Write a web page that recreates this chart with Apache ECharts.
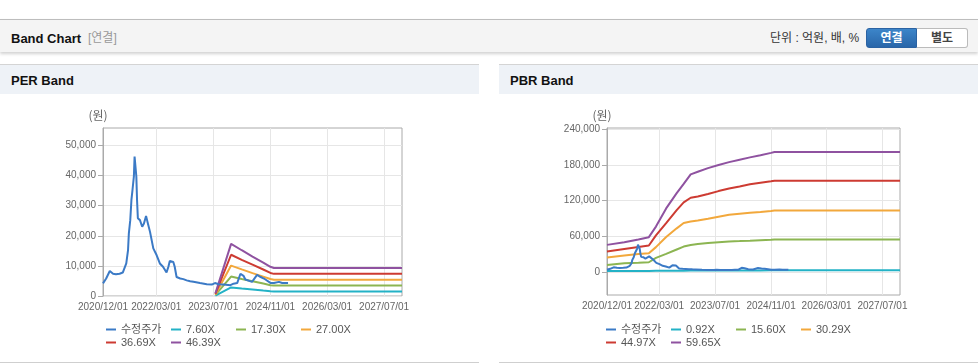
<!DOCTYPE html>
<html>
<head>
<meta charset="utf-8">
<script src="https://cdn.jsdelivr.net/npm/echarts@6.0.0/dist/echarts.min.js"></script>
<style>
  body { margin: 0; width: 978px; height: 364px; overflow: hidden; background: #fff; position: relative;
         font-family: "Liberation Sans", "Noto Sans CJK KR", sans-serif; }
  .abs { position: absolute; white-space: nowrap; }
  .bar { left: 0; top: 19px; width: 978px; height: 33px; box-sizing: border-box; background: #f4f4f4;
         border-top: 1px solid #bdbdbd; box-shadow: 0 2px 3px rgba(0,0,0,0.18); }
  .ttl { top: 30px; line-height: 17px; font-size: 13px; font-weight: bold; color: #111; }
  .sub { left: 88px; top: 30px; line-height: 17px; font-size: 12px; color: #999; }
  .unit { left: 770px; top: 30px; line-height: 17px; font-size: 12px; color: #333; }
  .btn { top: 28px; width: 51px; height: 20px; box-sizing: border-box; line-height: 18px; text-align: center;
         font-size: 12px; font-weight: bold; }
  .on { left: 866px; color: #fff; background: linear-gradient(#3c85c9, #2966a9); border: 1px solid #2a62a2;
        border-radius: 3px 0 0 3px; }
  .off { left: 917px; color: #444; background: #fff; border: 1px solid #bbb; border-left: none;
         border-radius: 0 3px 3px 0; }
  .panel { top: 64px; width: 479px; height: 299px; box-sizing: border-box; border-top: 1px solid #d4d4d4;
           border-bottom: 1px solid #cfcfcf; background: #fff; }
  .hd { position: absolute; left: 0; top: 0; right: 0; height: 29px; background: #eef2f7; }
  .ptl { top: 72px; line-height: 17px; font-size: 13px; font-weight: bold; color: #111; }
  #chart { position: absolute; left: 0; top: 0; width: 978px; height: 364px; z-index: 5; }
</style>
</head>
<body>
<div class="abs bar"></div>
<div class="abs ttl" style="left:11px">Band Chart</div>
<div class="abs sub">[연결]</div>
<div class="abs unit">단위 : 억원, 배, %</div>
<div class="abs btn on">연결</div>
<div class="abs btn off">별도</div>

<div class="abs panel" style="left:0"><div class="hd"></div></div>
<div class="abs panel" style="left:499px"><div class="hd"></div></div>
<div class="abs ptl" style="left:11px">PER Band</div>
<div class="abs ptl" style="left:510px">PBR Band</div>

<div id="chart"></div>

<script>
// 수정주가 (both charts)
const priceSeries = [
  ['2020-12-01', 4200], ['2020-12-28', 5800], ['2021-01-28', 8300], ['2021-02-25', 7400],
  ['2021-03-22', 7200], ['2021-04-22', 7400], ['2021-05-19', 7800], ['2021-06-03', 8300],
  ['2021-06-18', 10800], ['2021-07-03', 15200], ['2021-07-10', 20800], ['2021-07-22', 25200],
  ['2021-08-01', 31900], ['2021-08-10', 35200], ['2021-08-22', 39700], ['2021-08-28', 46300],
  ['2021-09-06', 45800], ['2021-09-12', 39700], ['2021-09-18', 31900], ['2021-09-25', 25800],
  ['2021-10-13', 25200], ['2021-11-01', 23000], ['2021-11-16', 24100], ['2021-12-04', 26600],
  ['2021-12-16', 24700], ['2022-01-07', 21300], ['2022-02-04', 15800], ['2022-03-04', 13600],
  ['2022-04-01', 10800], ['2022-04-28', 9700], ['2022-05-28', 7800], ['2022-06-13', 9700],
  ['2022-06-25', 11600], ['2022-07-25', 11300], ['2022-08-06', 9700], ['2022-08-22', 6300],
  ['2022-09-22', 5800], ['2022-10-19', 5600], ['2022-11-16', 5200], ['2022-12-16', 4900],
  ['2023-01-13', 4700], ['2023-03-10', 4300], ['2023-05-07', 3900], ['2023-06-19', 3800],
  ['2023-07-16', 4300], ['2023-08-16', 3900], ['2023-09-28', 3800], ['2023-11-25', 3600],
  ['2023-12-22', 4100], ['2024-01-22', 4300], ['2024-02-19', 7400], ['2024-03-16', 6700],
  ['2024-04-01', 5500], ['2024-04-16', 5200], ['2024-05-28', 4700], ['2024-06-13', 5200],
  ['2024-07-10', 7000], ['2024-08-10', 6300], ['2024-09-07', 5800], ['2024-09-22', 5200],
  ['2024-11-04', 4300], ['2024-12-01', 4300], ['2025-01-13', 4700], ['2025-02-10', 4300],
  ['2025-03-25', 4300], ['2025-04-01', 4300]
];

// PER band
const perNames = ['7.60X', '17.30X', '27.00X', '36.69X', '46.39X'];
const perDates = ['2023-07-20', '2023-12-01', '2024-03-01', '2024-06-01', '2024-09-01', '2024-11-01', '2024-12-01', '2027-12-01'];
const per760 = [150, 2850, 2500, 2150, 1800, 1600, 1520, 1520];
const per1730 = [340, 6450, 5650, 4900, 4150, 3600, 3450, 3450];
const per2700 = [530, 10100, 8850, 7600, 6450, 5650, 5400, 5400];
const per3669 = [700, 13700, 12000, 10400, 8800, 7650, 7350, 7350];
const per4639 = [900, 17300, 15200, 13100, 11100, 9700, 9300, 9300];

// PBR band
const pbrNames = ['0.92X', '15.60X', '30.29X', '44.97X', '59.65X'];
const pbrDates = ['2020-12-01', '2021-05-01', '2021-09-01', '2021-12-01', '2022-02-01', '2022-05-01', '2022-08-01',
  '2022-10-01', '2022-12-01', '2023-02-01', '2023-05-01', '2023-08-01', '2023-11-01', '2024-02-01', '2024-05-01',
  '2024-08-01', '2024-11-01', '2024-12-01', '2027-12-01'];
const pbr092 = [2000, 2100, 2200, 2300, 2400, 2500, 2600, 2700, 2800, 2850, 2900, 2950, 3000, 3050, 3100, 3150, 3200, 3200, 3200];
const pbr1560 = [12300, 15200, 16100, 16800, 24200, 30800, 38200, 43000, 45800, 47200, 49000, 50300, 51500, 52200, 52900, 53800, 54600, 54900, 54900];
const pbr3029 = [24600, 28200, 30500, 31900, 42100, 59100, 73600, 82500, 84900, 86600, 89700, 93100, 96200, 98000, 99600, 101100, 102800, 103500, 103500];
const pbr4497 = [34700, 39000, 42500, 44800, 61800, 82300, 104000, 117000, 124800, 127000, 131000, 136000, 140300, 143800, 147300, 149900, 152500, 153400, 153400];
const pbr5965 = [45900, 50200, 55000, 58800, 76500, 107000, 132500, 148000, 164000, 168300, 174500, 179700, 184500, 188600, 192500, 196000, 200000, 201500, 201500];

// axis ticks
const xTicks = ['2020/12/01', '2022/03/01', '2023/07/01', '2024/11/01', '2026/03/01', '2027/07/01'];
const perYTicks = [0, 10000, 20000, 30000, 40000, 50000];
const pbrYTicks = [0, 60000, 120000, 180000, 240000];

const colors = ['#3b7ac6', '#23b2c6', '#8cb552', '#f2a83c', '#cd3b32', '#8f52a0'];

function ts(s) {
  const p = s.split(/[-\/]/).map(Number);
  return new Date(p[0], p[1] - 1, p[2]).getTime();
}
function pad(n) { return (n < 10 ? '0' : '') + n; }
function fmtDate(v) {
  const d = new Date(v);
  return d.getFullYear() + '/' + pad(d.getMonth() + 1) + '/' + pad(d.getDate());
}
function fmtNum(v) { return String(Math.round(v)).replace(/\B(?=(\d{3})+(?!\d))/g, ','); }

const xTickVals = xTicks.map(ts);
const xMin = ts('2020-12-01');
const xMax = ts('2027-12-01');

const chart = echarts.init(document.getElementById('chart'));

// x is a plain value axis holding timestamps, so custom tick dates can be used
function xAxisFor(idx) {
  return {
    type: 'value', gridIndex: idx, min: xMin, max: xMax, scale: true,
    axisLine: { show: false },
    axisTick: { show: false, customValues: xTickVals },
    axisLabel: { customValues: xTickVals, formatter: fmtDate, color: '#666', fontSize: 10, margin: 6,
                 fontFamily: 'Liberation Sans' },
    splitLine: { show: true, lineStyle: { color: '#e6e6e6', width: 1 } }
  };
}
function yAxisFor(idx, min, max, ticks) {
  return {
    type: 'value', gridIndex: idx, min: min, max: max,
    name: '(원)', nameLocation: 'end', nameGap: 7,
    nameTextStyle: { color: '#666', fontSize: 12, padding: [0, 10, 0, 0], fontFamily: 'Noto Sans CJK KR' },
    axisLine: { show: true, lineStyle: { color: '#aaa' } },
    axisTick: { show: true, length: 5, lineStyle: { color: '#aaa' }, customValues: ticks },
    axisLabel: { customValues: ticks, formatter: fmtNum, color: '#666', fontSize: 10, margin: 7,
                 fontFamily: 'Liberation Sans' },
    splitLine: { show: true, lineStyle: { color: '#e6e6e6', width: 1 } }
  };
}
function zip(dates, vals) { return dates.map((d, i) => [ts(d), vals[i]]); }
function line(name, idx, data, color, z) {
  return {
    name: name, type: 'line', xAxisIndex: idx, yAxisIndex: idx, data: data,
    showSymbol: false, symbol: 'none', color: color, z: z || 2,
    lineStyle: { width: 2, color: color }
  };
}
function legendFor(left, names) {
  return {
    left: left, top: 323, width: 262, orient: 'horizontal', icon: 'rect',
    itemWidth: 10, itemHeight: 2, itemGap: 0, padding: 0,
    data: ['수정주가'].concat(names),
    textStyle: { width: 50, fontSize: 11, lineHeight: 13, color: '#555',
                 fontFamily: 'Liberation Sans, Noto Sans CJK KR' }
  };
}

const priceData = priceSeries.map(p => [ts(p[0]), p[1]]);

chart.setOption({
  animation: false,
  grid: [
    { left: 103, top: 128, width: 299, height: 168, show: true, borderColor: '#aaa', borderWidth: 1 },
    { left: 607, top: 128, width: 293, height: 167, show: true, borderColor: '#aaa', borderWidth: 1 }
  ],
  legend: [legendFor(106, perNames), legendFor(606, pbrNames)],
  xAxis: [xAxisFor(0), xAxisFor(1)],
  yAxis: [yAxisFor(0, 0, 55800, perYTicks), yAxisFor(1, -38100, 241700, pbrYTicks)],
  series: [
    line(perNames[0], 0, zip(perDates, per760), colors[1]),
    line(perNames[1], 0, zip(perDates, per1730), colors[2]),
    line(perNames[2], 0, zip(perDates, per2700), colors[3]),
    line(perNames[3], 0, zip(perDates, per3669), colors[4]),
    line(perNames[4], 0, zip(perDates, per4639), colors[5]),
    line('수정주가', 0, priceData, colors[0], 3),
    line(pbrNames[0], 1, zip(pbrDates, pbr092), colors[1]),
    line(pbrNames[1], 1, zip(pbrDates, pbr1560), colors[2]),
    line(pbrNames[2], 1, zip(pbrDates, pbr3029), colors[3]),
    line(pbrNames[3], 1, zip(pbrDates, pbr4497), colors[4]),
    line(pbrNames[4], 1, zip(pbrDates, pbr5965), colors[5]),
    line('수정주가', 1, priceData, colors[0], 3)
  ]
});
</script>
</body>
</html>
